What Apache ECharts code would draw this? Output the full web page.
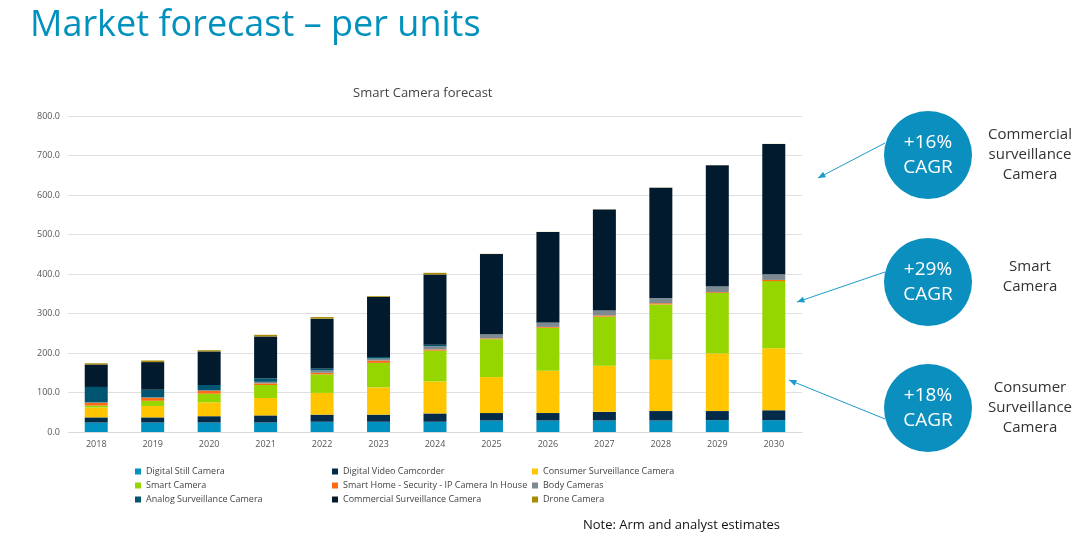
<!DOCTYPE html>
<html><head><meta charset="utf-8">
<script src="https://cdn.jsdelivr.net/npm/echarts@6/dist/echarts.min.js"></script>
<style>html,body{margin:0;background:#fff}#c{width:1080px;height:546px}</style>
</head><body><div id="c"></div>
<script>
var years = ['2018','2019','2020','2021','2022','2023','2024','2025','2026','2027','2028','2029','2030'];
var digitalStill   = [24, 24, 24, 24, 26, 26, 26, 29, 29, 29, 29, 30, 30];
var digitalVideo   = [13, 13, 16, 18, 18, 18, 21, 19, 19, 22, 24, 23, 25];
var consumerSurv   = [25, 29, 35, 44, 55, 69, 81, 91, 107, 117, 130, 146, 157];
var smartCamera    = [5, 13, 22, 33, 47, 62, 78, 96, 109, 124, 140, 153, 170];
var smartHome      = [7, 7, 7, 4, 4, 6, 3, 2, 2, 3, 3, 2, 3];
var bodyCam        = [1, 2, 2, 4, 6, 5, 8, 10, 11, 12, 12, 15, 14];
var analogSurv     = [39, 19, 13, 9, 5, 4, 4, 0.5, 0.5, 0.3, 0.3, 0.3, 0.3];
var commercialSurv = [57, 70, 85, 106, 126, 152, 178, 203, 229, 256, 280, 306, 330];
var droneCam       = [3, 4, 3, 4, 4, 2, 4, 0.5, 0.3, 0.3, 0.3, 0.3, 0.3];

var names = ['Digital Still Camera','Digital Video Camcorder','Consumer Surveillance Camera',
  'Smart Camera','Smart Home - Security - IP Camera In House','Body Cameras',
  'Analog Surveillance Camera','Commercial Surveillance Camera','Drone Camera'];
var datas = [digitalStill, digitalVideo, consumerSurv, smartCamera, smartHome, bodyCam, analogSurv, commercialSurv, droneCam];
var colors = ['#0091c0','#022b4a','#ffc600','#95d600','#ff6a13','#7d8a92','#005670','#021a2e','#a88a00'];

var series = names.map(function (n, i) {
  return { name: n, type: 'bar', stack: 'all', data: datas[i], barWidth: 23,
    itemStyle: { color: colors[i] } };
});

var legendBase = { orient: 'vertical', itemWidth: 6, itemHeight: 6, itemGap: 5, icon: 'rect',
  textStyle: { fontSize: 9, color: '#444', fontFamily: 'Open Sans' } };
function col(x, items) { return Object.assign({ left: x, top: 462, data: items }, legendBase); }

var circles = [[928, 155, '+16%', 'Commercial\nsurveillance\nCamera'],
               [928, 282, '+29%', 'Smart\nCamera'],
               [928, 408, '+18%', 'Consumer\nSurveillance\nCamera']];
var graphic = [
  { type: 'text', left: 30, top: 8, style: { text: 'Market forecast – per units', fontSize: 36, fill: '#0091bd', fontFamily: 'Open Sans' } },
  { type: 'text', left: 583, top: 519, style: { text: 'Note: Arm and analyst estimates', fontSize: 13, fill: '#111', fontFamily: 'Open Sans' } }
];
circles.forEach(function (c) {
  graphic.push({ type: 'circle', shape: { cx: c[0], cy: c[1], r: 44 }, style: { fill: '#0a8fbf' } });
  graphic.push({ type: 'text', x: c[0], y: c[1], style: { text: c[2] + '\nCAGR', fill: '#fff', fontSize: 19, lineHeight: 25,
    align: 'center', verticalAlign: 'middle', fontFamily: 'Open Sans' } });
  graphic.push({ type: 'text', x: c[0] + 102, y: c[1] + (c[3].split('\n').length === 2 ? -5 : 0), style: { text: c[3], fill: '#333', fontSize: 15,
    lineHeight: 20, align: 'center', verticalAlign: 'middle', fontFamily: 'Open Sans' } });
});
[[885, 143, 818, 178], [885, 272, 797, 302], [885, 419, 789, 380]].forEach(function (a) {
  graphic.push({ type: 'line', shape: { x1: a[0], y1: a[1], x2: a[2], y2: a[3] }, style: { stroke: '#1a9bc8', lineWidth: 1 } });
  var ang = Math.atan2(a[3] - a[1], a[2] - a[0]);
  graphic.push({ type: 'polygon', shape: { points: [[a[2], a[3]],
    [a[2] - 8 * Math.cos(ang - 0.4), a[3] - 8 * Math.sin(ang - 0.4)],
    [a[2] - 8 * Math.cos(ang + 0.4), a[3] - 8 * Math.sin(ang + 0.4)]] }, style: { fill: '#1a9bc8' } });
});

var chart = echarts.init(document.getElementById('c'));
chart.setOption({
  animation: false,
  textStyle: { fontFamily: 'Open Sans' },
  title: { text: 'Smart Camera forecast', left: 348, top: 82, textStyle: { fontSize: 13, fontWeight: 'normal', color: '#444' } },
  grid: { left: 68, right: 278, top: 116, bottom: 114 },
  xAxis: { type: 'category', data: years, axisTick: { show: false },
    axisLine: { lineStyle: { color: '#d9d9d9' } }, axisLabel: { fontSize: 9, color: '#555' } },
  yAxis: { type: 'value', min: 0, max: 800, interval: 100,
    axisLabel: { fontSize: 9, color: '#555', formatter: function (v) { return v.toFixed(1); } },
    splitLine: { lineStyle: { color: '#e0e0e0' } } },
  legend: [col(130, [names[0], names[3], names[6]]), col(327, [names[1], names[4], names[7]]), col(527, [names[2], names[5], names[8]])],
  series: series,
  graphic: graphic
});
</script></body></html>
